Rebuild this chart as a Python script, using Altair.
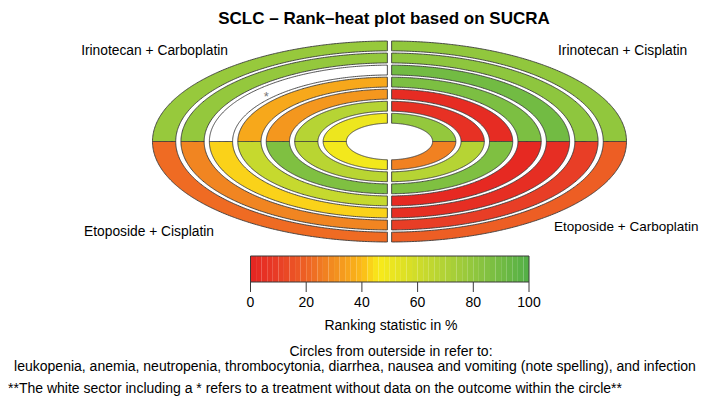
import math
import numpy as np
import pandas as pd
import altair as alt

# ---------------- data ----------------
treatments = ["Irinotecan + Carboplatin", "Irinotecan + Cisplatin",
              "Etoposide + Cisplatin", "Etoposide + Carboplatin"]
outcomes = ["leukopenia", "anemia", "neutropenia", "thrombocytonia",
            "diarrhea", "nausea and vomiting", "infection"]
sucra_irino_carbo = [78, 79, None, 36, 32, 68, 50]
sucra_irino_cis = [80, 81, 90, 87, 3, 5, 79]
sucra_etop_cis = [22, 28, 43, 63, 86, 67, 48]
sucra_etop_carbo = [19, 10, 4, 2, 86, 68, 27]
colorbar_ticks = [0, 20, 40, 60, 80, 100]

title_text = "SCLC \u2013 Rank\u2013heat plot based on SUCRA"
legend_title = "Ranking statistic in %"
note_line1 = "Circles from outerside in refer to:"
note_line2 = ("leukopenia, anemia, neutropenia, thrombocytonia, diarrhea, "
              "nausea and vomiting (note spelling), and infection")
footnote = ("**The white sector including a * refers to a treatment without data "
            "on the outcome within the circle**")

series = [sucra_irino_carbo, sucra_irino_cis, sucra_etop_cis, sucra_etop_carbo]
quad_sign = [(-1, 1), (1, 1), (-1, -1), (1, -1)]

# ---------------- geometry (normalised ellipse units) ----------------
RING_W = 0.098
RING_G = 0.022
HALF_GAP = 0.009

rows = []
stars = []
for t, vals, (sx, sy) in zip(treatments, series, quad_sign):
    for k, v in enumerate(vals):
        r_out = 1 - k * (RING_W + RING_G)
        r_in = r_out - RING_W
        ts = np.linspace(0, np.pi / 2, 120)
        xs = np.concatenate([r_out * np.cos(ts), r_in * np.cos(ts), [HALF_GAP]])
        xs = np.unique(np.round(xs[xs >= HALF_GAP], 6))
        for x in xs:
            yo = math.sqrt(max(r_out ** 2 - x ** 2, 0))
            yi = math.sqrt(max(r_in ** 2 - x ** 2, 0))
            rows.append(dict(sector=f"{t}|{outcomes[k]}", treatment=t,
                             outcome=outcomes[k], sucra=v,
                             ex=sx * x, ey=sy * yo, ey2=sy * yi))
        if v is None:
            rm = (r_out + r_in) / 2
            ang = math.radians(137)
            stars.append(dict(ex=rm * math.cos(ang), ey=rm * math.sin(ang), s="*"))

df = pd.DataFrame(rows)
df_valid = df[df["sucra"].notna()].copy()
df_missing = df[df["sucra"].isna()].copy()
df_star = pd.DataFrame(stars)

cb_steps = np.arange(0, 100, 2)
df_cb = pd.DataFrame({"lo": cb_steps, "hi": cb_steps + 2, "mid": cb_steps + 1})
df_ticks = pd.DataFrame({"tick": colorbar_ticks})
df_frame = pd.DataFrame({"lo": [0], "hi": [100]})

# ---------------- scales ----------------
W, H = 693, 388
CX, CY = 381.5, 133.5     # ellipse centre inside the plot area (px)
RX, RY = 237.0, 100.5     # ellipse radii (px)
x_dom = [-CX / RX, (W - CX) / RX]
y_dom = [(CY - H) / RY, CY / RY]
xs_e = alt.Scale(domain=x_dom, nice=False, zero=False)
ys_e = alt.Scale(domain=y_dom, nice=False, zero=False)

CB_L, CB_R = 242.5, 521.0
pxu = (CB_R - CB_L) / 100.0
xs_cb = alt.Scale(domain=[-CB_L / pxu, (W - CB_L) / pxu], nice=False, zero=False)

color_scale = alt.Scale(
    domain=[0, 10, 20, 30, 40, 46, 55, 70, 85, 100],
    range=["#e52421", "#e83e26", "#ee6224", "#f28e20", "#fbb918",
           "#f9ea1a", "#dfe124", "#b0d236", "#82c141", "#52af47"],
    interpolate="rgb")

FONT = "Liberation Sans"
STROKE = "#3a3a3a"

rings = alt.Chart(df_valid).mark_area(
    stroke=STROKE, strokeWidth=0.9, opacity=1, interpolate="linear"
).encode(
    x=alt.X("ex:Q", scale=xs_e, axis=None),
    y=alt.Y("ey:Q", scale=ys_e, axis=None),
    y2="ey2:Q",
    color=alt.Color("sucra:Q", scale=color_scale, legend=None),
    detail="sector:N",
)

missing = alt.Chart(df_missing).mark_area(
    stroke=STROKE, strokeWidth=0.9, fill="white", interpolate="linear"
).encode(
    x=alt.X("ex:Q", scale=xs_e, axis=None),
    y=alt.Y("ey:Q", scale=ys_e, axis=None),
    y2="ey2:Q",
    detail="sector:N",
)

star = alt.Chart(df_star).mark_text(
    font=FONT, fontSize=13, color="#777777", baseline="middle", dy=4
).encode(
    x=alt.X("ex:Q", scale=xs_e, axis=None),
    y=alt.Y("ey:Q", scale=ys_e, axis=None),
    text="s:N",
)

cbar = alt.Chart(df_cb).mark_rect().encode(
    x=alt.X("lo:Q", scale=xs_cb, axis=None),
    x2="hi:Q",
    y=alt.value(248), y2=alt.value(274),
    color=alt.Color("mid:Q", scale=color_scale, legend=None),
)
cframe = alt.Chart(df_frame).mark_rect(fill=None, stroke=STROKE, strokeWidth=1).encode(
    x=alt.X("lo:Q", scale=xs_cb, axis=None),
    x2="hi:Q",
    y=alt.value(248), y2=alt.value(274),
)
cticks = alt.Chart(df_ticks).mark_rule(color=STROKE, strokeWidth=1).encode(
    x=alt.X("tick:Q", scale=xs_cb, axis=None),
    y=alt.value(274), y2=alt.value(284),
)
clabels = alt.Chart(df_ticks).mark_text(font=FONT, fontSize=14, color="black",
                                         baseline="middle").encode(
    x=alt.X("tick:Q", scale=xs_cb, axis=None),
    y=alt.value(295),
    text="tick:Q",
)


def txt(s, x, y, size=14, align="center", weight="normal", baseline="middle"):
    return alt.Chart(pd.DataFrame({"t": [s]})).mark_text(
        font=FONT, fontSize=size, fontWeight=weight, align=align,
        baseline=baseline, color="black"
    ).encode(x=alt.value(x), y=alt.value(y), text="t:N")


texts = [
    txt(title_text, 376, 16, size=17, weight="bold", baseline="alphabetic"),
    txt(treatments[0], 220, 43, size=13.8, align="right"),
    txt(treatments[1], 550, 43, size=13.8, align="left"),
    txt(treatments[2], 206, 224, size=13.8, align="right"),
    txt(treatments[3], 546, 219, size=13.5, align="left"),
    txt(legend_title, 383, 318),
    txt(note_line1, 383, 344),
    txt(note_line2, 347, 359),
    txt(footnote, 0, 381, align="left"),
]

chart = alt.layer(rings, missing, star, cbar, cframe, cticks, clabels, *texts).resolve_scale(
    x="independent", y="independent", color="shared"
).properties(
    width=W, height=H, padding=0, autosize=alt.AutoSizeParams(type="none")
).configure_view(stroke=None)

chart.save("out.html", embed_options={"renderer": "svg", "actions": False})
